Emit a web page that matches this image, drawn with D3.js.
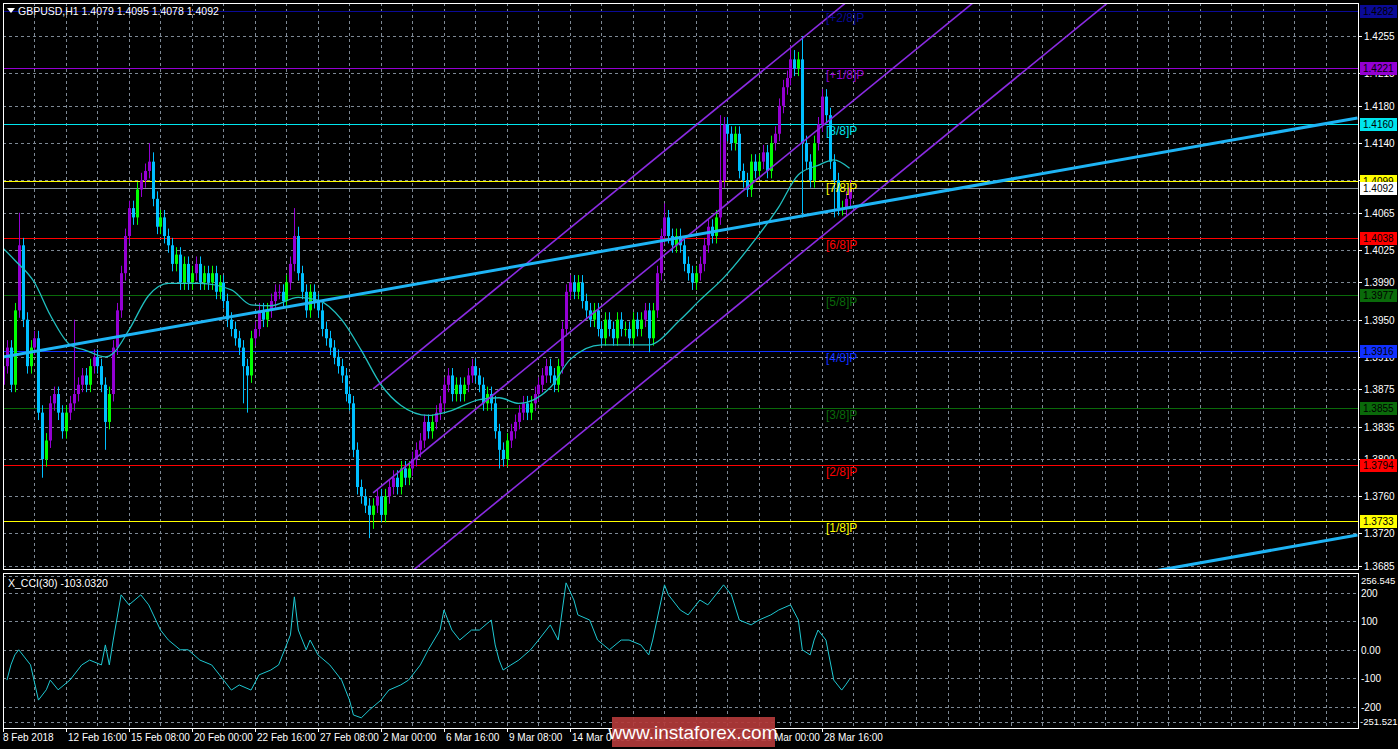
<!DOCTYPE html>
<html><head><meta charset="utf-8">
<script src="https://cdn.jsdelivr.net/npm/d3@7"></script>
<style>body{margin:0;background:#000;overflow:hidden}svg{display:block}text{font-family:"Liberation Sans",Arial,sans-serif}</style>
</head><body>
<script>
const closes=[1.3900,1.3920,1.3880,1.3960,1.4030,1.3950,1.3900,1.3920,1.3930,1.3850,1.3800,1.3820,1.3860,1.3870,1.3850,1.3830,1.3850,1.3860,1.3870,1.3880,
1.3890,1.3880,1.3900,1.3910,1.3900,1.3880,1.3840,1.3870,1.3920,1.3960,1.4000,1.4040,1.4070,1.4060,1.4090,1.4100,1.4110,1.4120,1.4080,1.4050,
1.4060,1.4040,1.4030,1.4010,1.4020,1.3990,1.4010,1.3990,1.4000,1.4010,1.3990,1.4000,1.3990,1.4000,1.3980,1.3990,1.3970,1.3950,1.3940,1.3930,
1.3920,1.3900,1.3890,1.3930,1.3940,1.3960,1.3950,1.3960,1.3970,1.3980,1.3980,1.3970,1.3990,1.4010,1.4040,1.4000,1.3980,1.3960,1.3980,1.3970,
1.3960,1.3940,1.3930,1.3920,1.3910,1.3900,1.3890,1.3870,1.3860,1.3810,1.3770,1.3760,1.3750,1.3740,1.3750,1.3760,1.3740,1.3760,1.3770,1.3780,
1.3770,1.3790,1.3780,1.3790,1.3800,1.3810,1.3820,1.3840,1.3830,1.3840,1.3850,1.3860,1.3880,1.3890,1.3870,1.3880,1.3870,1.3880,1.3890,1.3900,
1.3890,1.3880,1.3860,1.3870,1.3860,1.3830,1.3810,1.3800,1.3820,1.3830,1.3840,1.3850,1.3860,1.3850,1.3860,1.3870,1.3880,1.3890,1.3900,1.3890,
1.3880,1.3900,1.3940,1.3980,1.3990,1.3980,1.3990,1.3970,1.3960,1.3950,1.3960,1.3940,1.3930,1.3950,1.3940,1.3930,1.3950,1.3940,1.3940,1.3930,
1.3950,1.3940,1.3950,1.3960,1.3930,1.3960,1.4000,1.4040,1.4060,1.4040,1.4030,1.4040,1.4030,1.4010,1.4000,1.3990,1.4000,1.4010,1.4030,1.4050,
1.4040,1.4060,1.4100,1.4160,1.4150,1.4140,1.4150,1.4110,1.4100,1.4090,1.4120,1.4110,1.4120,1.4130,1.4110,1.4140,1.4150,1.4180,1.4200,1.4210,
1.4230,1.4220,1.4230,1.4140,1.4120,1.4100,1.4140,1.4160,1.4190,1.4170,1.4120,1.4100,1.4070,1.4070,1.4080,1.4092];
const firstOpen=1.3880;
const highBars=[4,18,37,38,74,75,168,182,200,201,203];
const highVals=[1.4065,1.3950,1.4140,1.4130,1.4070,1.4050,1.4075,1.4170,1.4245,1.4240,1.4255];
const lowBars=[10,26,61,62,93,94,126,164,203,211];
const lowVals=[1.3780,1.3810,1.3860,1.3850,1.3715,1.3725,1.3790,1.3915,1.4060,1.4060];
const wick=0.0008;
const maBars=[0,3,8,12,17,21,26,28,32,37,42,50,58,63,68,75,80,86,91,96,101,108,113,121,126,131,139,144,152,159,164,172,177,183,191,197,202,207,211,215];
const maVals=[1.4027,1.4014,1.3990,1.3955,1.3923,1.3917,1.3910,1.3914,1.3939,1.3976,1.3989,1.3989,1.3982,1.3966,1.3965,1.3974,1.3971,1.3950,1.3917,1.3880,1.3858,1.3847,1.3851,1.3864,1.3866,1.3860,1.3877,1.3907,1.3923,1.3923,1.3923,1.3950,1.3971,1.3995,1.4036,1.4071,1.4106,1.4116,1.4122,1.4113];
const cciBars=[1,2,3,4,7,9,11,12,14,17,20,22,25,26,27,28,30,31,32,35,37,40,42,45,47,50,53,55,58,60,63,65,68,70,73,74,75,77,78,80,83,86,88,89,91,93,96,98,101,103,106,108,111,112,114,116,119,121,124,125,126,127,129,131,134,136,139,141,143,145,146,149,151,154,157,159,162,164,165,168,169,172,174,177,179,182,183,185,187,190,192,195,197,200,202,203,205,206,207,209,210,211,213,214,215];
const cciVals=[-106,-53,-18,0,-53,-176,-140,-106,-140,-106,-53,-36,-53,17,-53,34,192,174,157,192,157,69,34,0,0,-36,-53,-88,-141,-123,-141,-88,-71,-53,52,185,69,0,34,-18,-53,-106,-176,-228,-238,-211,-176,-141,-123,-106,-53,0,69,139,69,34,69,69,104,17,-36,-71,-53,-36,0,34,87,34,234,174,122,104,34,0,34,34,17,-18,34,227,192,139,122,174,157,209,227,192,104,87,104,122,139,157,104,0,-18,34,69,34,-36,-106,-141,-123,-103];
const levelVals=[1.4282,1.4221,1.4160,1.4099,1.4038,1.3977,1.3916,1.3855,1.3794,1.3733];
const levelNames=["[+2/8]P","[+1/8]P","[8/8]P","[7/8]P","[6/8]P","[5/8]P","[4/8]P","[3/8]P","[2/8]P","[1/8]P"];
const levelColors=["#0a0a96","#9400d3","#00e5ee","#ffff00","#ff0000","#0a6a0a","#1030ff","#0a6a0a","#ff0000","#ffff00"];
const lastPrice=1.4092;
const channelBars=[94,300];
const channelUpper=[1.38755,1.45883];
const channelMiddle=[1.37636,1.44764];
const channelLower=[1.36453,1.43581];
const trendBars=[0,344];
const trend1=[1.39099,1.41670];
const trend2Bars=[291,344];
const trend2=[1.36786,1.37184];
const priceTicks=[1.4255,1.4215,1.4180,1.4140,1.4100,1.4065,1.4025,1.3990,1.3950,1.3910,1.3875,1.3835,1.3800,1.3760,1.3720,1.3685];
const cciTicks=[200,100,0,-100,-200];
const timeLabels=["8 Feb 2018","12 Feb 16:00","15 Feb 08:00","20 Feb 00:00","22 Feb 16:00","27 Feb 08:00","2 Mar 00:00","6 Mar 16:00","9 Mar 08:00","14 Mar 00:00","16 Mar 16:00","21 Mar 08:00","26 Mar 00:00","28 Mar 16:00"];
const timeLabelBars=[0,16,32,48,64,80,96,112,128,144,160,176,192,208];

const W=1398,H=749,L=3,R=1358,T=3,B=569,CT=573,CB=728;
const svg=d3.select("body").append("svg").attr("width",W).attr("height",H);
svg.append("rect").attr("width",W).attr("height",H).attr("fill","#000");
const x=d3.scaleLinear().domain([0,344.13]).range([L,R]);
const y=d3.scaleLinear().domain([1.36818,1.42885]).range([B,5]);
const cy=d3.scaleLinear().domain([-251.521,256.545]).range([721.7,576.4]);
const defs=svg.append("defs");
defs.append("clipPath").attr("id","cm").append("rect").attr("x",L).attr("y",T).attr("width",R-L).attr("height",B-T);
defs.append("clipPath").attr("id","cc").append("rect").attr("x",L).attr("y",CT).attr("width",R-L).attr("height",CB-CT);
const grid="#7d8894";
const vb=d3.range(8,344,8);
[[T,B],[CT,CB]].forEach(([a,b])=>{
  svg.append("g").selectAll("line").data(vb).join("line").attr("x1",d=>Math.round(x(d))+.5).attr("x2",d=>Math.round(x(d))+.5).attr("y1",a).attr("y2",b).attr("stroke",grid).attr("stroke-dasharray","3,3");
});
svg.append("g").selectAll("line").data(priceTicks).join("line").attr("x1",L).attr("x2",R).attr("y1",d=>Math.round(y(d))+.5).attr("y2",d=>Math.round(y(d))+.5).attr("stroke",grid).attr("stroke-dasharray","3,3");
svg.append("g").selectAll("line").data(cciTicks.concat([256.545,-251.521])).join("line").attr("x1",L).attr("x2",R).attr("y1",d=>Math.round(cy(d))+.5).attr("y2",d=>Math.round(cy(d))+.5).attr("stroke",grid).attr("stroke-dasharray","3,3");

const main=svg.append("g").attr("clip-path","url(#cm)");
main.selectAll(".lv").data(levelVals).join("line").attr("x1",L).attr("x2",R).attr("y1",d=>Math.round(y(d))+.5).attr("y2",d=>Math.round(y(d))+.5).attr("stroke",(d,i)=>levelColors[i]).attr("stroke-width",1.2);
main.append("line").attr("x1",L).attr("x2",R).attr("y1",Math.round(y(lastPrice))+.5).attr("y2",Math.round(y(lastPrice))+.5).attr("stroke","#8494a4");
const hi={},lo={};highBars.forEach((b,i)=>hi[b]=highVals[i]);lowBars.forEach((b,i)=>lo[b]=lowVals[i]);
const candles=closes.map((c,i)=>{const o=i?closes[i-1]:firstOpen;return{i,o,c,h:hi[i]!==undefined?hi[i]:Math.max(o,c)+wick,l:lo[i]!==undefined?lo[i]:Math.min(o,c)-wick};});
candles.forEach((d,i)=>{const prevDown=i>0&&candles[i-1].c<candles[i-1].o;d.col=d.c<d.o?"#00bfff":(prevDown?"#00ff00":"#9400d3");});
main.append("g").selectAll("line").data(candles).join("line").attr("x1",d=>Math.round(x(d.i))+.5).attr("x2",d=>Math.round(x(d.i))+.5).attr("y1",d=>y(d.h)).attr("y2",d=>y(d.l)).attr("stroke",d=>d.col);
main.append("g").selectAll("rect").data(candles).join("rect").attr("x",d=>Math.round(x(d.i))-1).attr("width",3).attr("y",d=>y(Math.max(d.o,d.c))).attr("height",d=>Math.max(1,Math.abs(y(d.o)-y(d.c)))).attr("fill",d=>d.col);
main.append("path").datum(maBars.map((b,i)=>[b,maVals[i]])).attr("d",d3.line().x(d=>x(d[0])).y(d=>y(d[1])).curve(d3.curveMonotoneX)).attr("fill","none").attr("stroke","#20c0c0").attr("stroke-width",1.3);
[channelUpper,channelMiddle,channelLower].forEach(ch=>main.append("line").attr("x1",x(channelBars[0])).attr("x2",x(channelBars[1])).attr("y1",y(ch[0])).attr("y2",y(ch[1])).attr("stroke","#8a2be2").attr("stroke-width",1.6));
main.append("line").attr("x1",x(trendBars[0])).attr("x2",x(trendBars[1])).attr("y1",y(trend1[0])).attr("y2",y(trend1[1])).attr("stroke","#1eb4f5").attr("stroke-width",3);
main.append("line").attr("x1",x(trend2Bars[0])).attr("x2",x(trend2Bars[1])).attr("y1",y(trend2[0])).attr("y2",y(trend2[1])).attr("stroke","#1eb4f5").attr("stroke-width",3);
main.selectAll(".ln").data(levelVals).join("text").attr("x",826).attr("y",d=>y(d)+11).attr("fill",(d,i)=>levelColors[i]).attr("font-size",12).text((d,i)=>levelNames[i]);
const cg=svg.append("g").attr("clip-path","url(#cc)");
cg.append("path").datum(cciBars.map((b,i)=>[b,cciVals[i]])).attr("d",d3.line().x(d=>x(d[0])).y(d=>cy(d[1]))).attr("fill","none").attr("stroke","#1ec8d2").attr("stroke-width",1);
svg.append("rect").attr("x",L+.5).attr("y",T+.5).attr("width",R-L).attr("height",B-T).attr("fill","none").attr("stroke","#fff");
svg.append("rect").attr("x",L+.5).attr("y",CT+.5).attr("width",R-L).attr("height",CB-CT).attr("fill","none").attr("stroke","#fff");
const ax=svg.append("g").attr("font-size",10).attr("fill","#fff");
priceTicks.forEach(v=>{ax.append("line").attr("x1",R).attr("x2",R+4).attr("y1",Math.round(y(v))+.5).attr("y2",Math.round(y(v))+.5).attr("stroke","#fff");ax.append("text").attr("x",R+6).attr("y",y(v)+4).text(v.toFixed(4));});
cciTicks.forEach(v=>{ax.append("text").attr("x",R+3).attr("y",cy(v)+4).text(v===0?"0.00":v);});
ax.append("text").attr("x",R+3).attr("y",584).attr("font-size",9.5).text("256.545");
ax.append("text").attr("x",R+2).attr("y",725).attr("font-size",9.5).text("-251.521");
const boxes=levelVals.map((v,i)=>({v,c:levelColors[i]})).concat([{v:lastPrice,c:"#ffffff"}]);
boxes.forEach(b=>{const yy=Math.round(y(b.v));ax.append("rect").attr("x",R+2).attr("y",yy-6).attr("width",37).attr("height",13).attr("fill",b.c);ax.append("text").attr("x",R+5).attr("y",yy+4).attr("fill","#000").text(b.v.toFixed(4));});
const tx=svg.append("g").attr("font-size",10).attr("fill","#fff");
timeLabelBars.forEach((b,i)=>{const xx=Math.round(x(b));tx.append("line").attr("x1",xx+.5).attr("x2",xx+.5).attr("y1",CB).attr("y2",CB+4).attr("stroke","#fff");tx.append("text").attr("x",xx+(i?2:0)).attr("y",741).text(timeLabels[i]);});
svg.append("path").attr("d","M7,8 L15,8 L11,13 Z").attr("fill","#fff");
svg.append("text").attr("x",18).attr("y",15).attr("fill","#fff").attr("font-size",10.5).text("GBPUSD,H1  1.4079 1.4095 1.4078 1.4092");
svg.append("text").attr("x",8).attr("y",587).attr("fill","#fff").attr("font-size",10.5).text("X_CCI(30) -103.0320");
svg.append("rect").attr("x",612).attr("y",717).attr("width",163).attr("height",30).attr("fill","#b23a3a").attr("opacity",0.92);
svg.append("text").attr("x",693).attr("y",739).attr("text-anchor","middle").attr("fill","#fff").attr("font-size",19).text("www.instaforex.com");
</script>
</body></html>
